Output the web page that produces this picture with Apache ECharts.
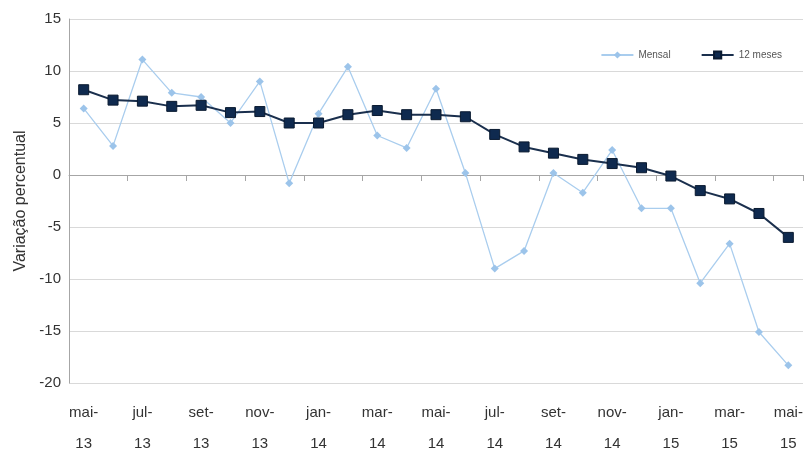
<!DOCTYPE html>
<html>
<head>
<meta charset="utf-8">
<script src="https://cdn.jsdelivr.net/npm/echarts@6/dist/echarts.min.js"></script>
<style>
html,body{margin:0;padding:0;background:#fff;}
#c{width:805px;height:452px;}
</style>
</head>
<body>
<div id="c"></div>
<script>
var categories = ['mai-13','jun-13','jul-13','ago-13','set-13','out-13','nov-13','dez-13',
  'jan-14','fev-14','mar-14','abr-14','mai-14','jun-14','jul-14','ago-14','set-14','out-14','nov-14','dez-14',
  'jan-15','fev-15','mar-15','abr-15','mai-15'];
var mensal = [6.4, 2.8, 11.1, 7.9, 7.5, 5.0, 9.0, -0.8, 5.9, 10.4, 3.8, 2.6, 8.3, 0.2, -9.0, -7.3, 0.2, -1.7, 2.4, -3.2, -3.2, -10.4, -6.6, -15.1, -18.3];
var dozeMeses = [8.2, 7.2, 7.1, 6.6, 6.7, 6.0, 6.1, 5.0, 5.0, 5.8, 6.2, 5.8, 5.8, 5.6, 3.9, 2.7, 2.1, 1.5, 1.1, 0.7, -0.1, -1.5, -2.3, -3.7, -6.0];
var yTicks = {min: -20, max: 15, interval: 5};

var chart = echarts.init(document.getElementById('c'));
chart.setOption({
  animation: false,
  backgroundColor: '#fff',
  grid: {left: 69, right: 2, top: 19, bottom: 69, containLabel: false, outerBoundsMode: 'none'},
  legend: {
    right: 18, top: 45,
    itemWidth: 32, itemHeight: 9, itemGap: 30,
    textStyle: {fontFamily: 'Liberation Sans Narrow, Liberation Sans, sans-serif', fontSize: 10, color: '#555'},
    data: ['Mensal', '12 meses']
  },
  xAxis: [{
    type: 'category',
    data: categories,
    boundaryGap: true,
    axisLine: {show: false, onZero: false},
    axisTick: {show: false},
    axisLabel: {
      interval: 1,
      fontFamily: 'Liberation Sans, Arial, sans-serif',
      fontSize: 15,
      color: '#333',
      lineHeight: 31,
      margin: 14,
      formatter: function (v) { var p = v.split('-'); return p[0] + '-\n' + p[1]; }
    },
    splitLine: {show: false}
  }, {
    type: 'category',
    data: categories,
    boundaryGap: true,
    position: 'top',
    axisLine: {show: true, onZero: true, lineStyle: {color: '#a6a6a6', width: 1}},
    axisTick: {show: true, interval: 1, inside: true, length: 6, lineStyle: {color: '#a6a6a6'}},
    axisLabel: {show: false},
    splitLine: {show: false}
  }],
  yAxis: {
    type: 'value',
    min: yTicks.min, max: yTicks.max, interval: yTicks.interval,
    name: 'Variação percentual',
    nameLocation: 'middle',
    nameGap: 40,
    nameTextStyle: {fontFamily: 'Liberation Sans, Arial, sans-serif', fontSize: 16, color: '#333'},
    axisLine: {show: true, onZero: false, lineStyle: {color: '#a6a6a6'}},
    axisTick: {show: false},
    axisLabel: {fontFamily: 'Liberation Sans, Arial, sans-serif', fontSize: 15, color: '#333', margin: 8},
    splitLine: {show: true, lineStyle: {color: '#d9d9d9', width: 1}}
  },
  series: [{
    name: 'Mensal',
    type: 'line',
    xAxisIndex: 0,
    data: mensal,
    symbol: 'diamond',
    symbolSize: 8,
    lineStyle: {color: '#a9cdee', width: 1.3},
    itemStyle: {color: '#9cc4ea'},
    z: 2
  }, {
    name: '12 meses',
    type: 'line',
    xAxisIndex: 0,
    data: dozeMeses,
    symbol: 'rect',
    symbolSize: 10,
    lineStyle: {color: '#1a2f4d', width: 2},
    itemStyle: {color: '#0f2a4f', borderColor: '#0a1a30', borderWidth: 1},
    z: 3
  }]
});
</script>
</body>
</html>
